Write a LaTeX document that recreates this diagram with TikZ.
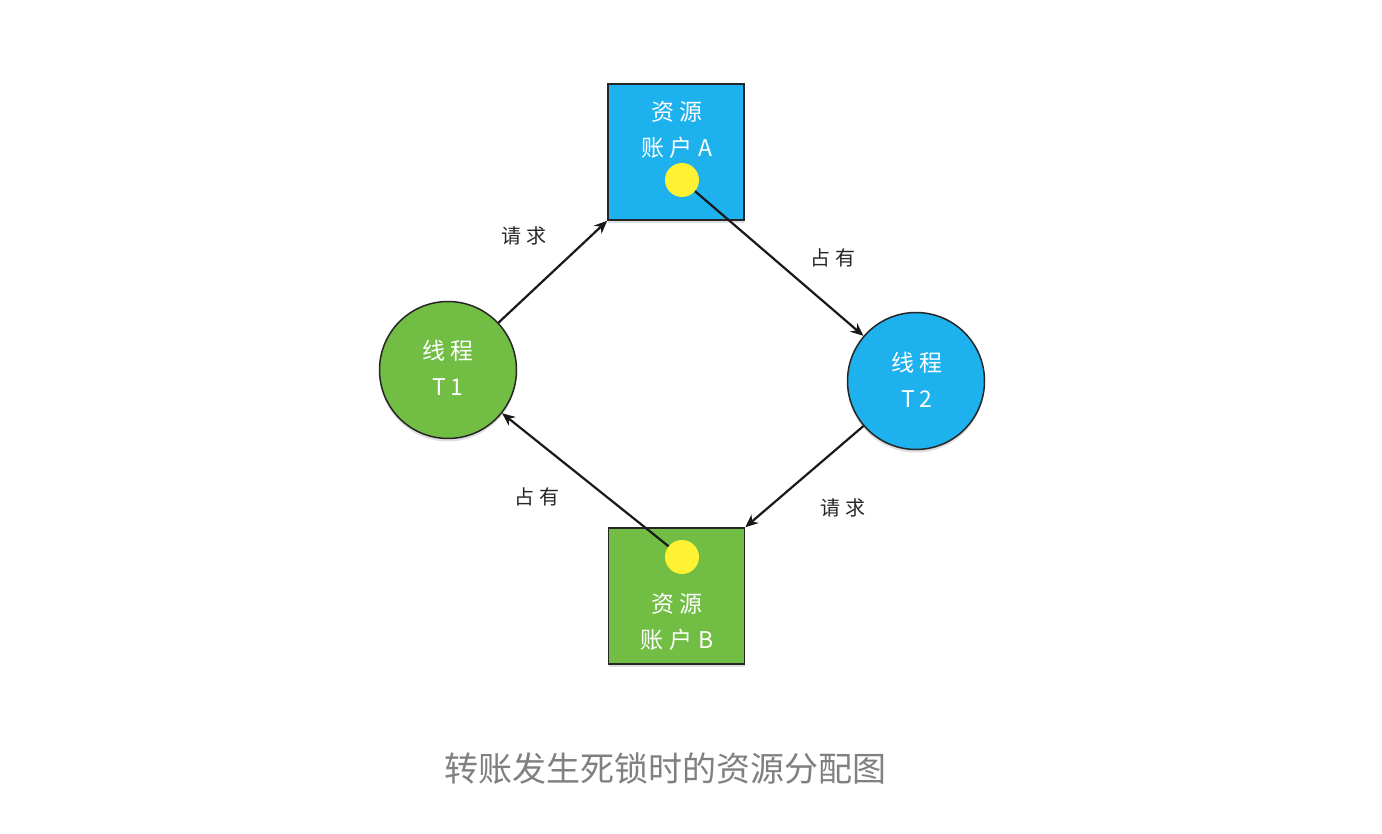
\documentclass[tikz,border=0pt]{standalone}
\usepackage{fontspec}
\setmainfont{Noto Sans CJK SC}
\usetikzlibrary{arrows.meta,shadows}
\definecolor{blueF}{HTML}{1DB1EE}
\definecolor{greenF}{HTML}{72BE45}
\definecolor{dotY}{HTML}{FFF233}
\definecolor{capG}{HTML}{808080}
\begin{document}
\begin{tikzpicture}[x=1pt,y=-1pt,
  shd/.style={drop shadow={shadow xshift=0pt,shadow yshift=-3pt,opacity=0.25}},
  res/.style={draw=black!85, line width=1.5pt, minimum size=136pt, inner sep=0pt, shd},
  thr/.style={circle, draw=black!85, line width=1.5pt, minimum size=137pt, inner sep=0pt, shd},
  heldot/.style={circle, fill=dotY, minimum size=34pt, inner sep=0pt},
  lbl/.style={text=white, font=\fontsize{23}{36}\selectfont, align=center, inner sep=0pt},
  conn/.style={line width=2.2pt, black!90, -{Stealth[length=13pt,width=11pt]}},
  elab/.style={font=\fontsize{20}{24}\selectfont, text=black!85, inner sep=0pt},
  captxt/.style={font=\fontsize{34}{36}\selectfont, text=capG, inner sep=0pt}]
\useasboundingbox (0,0) rectangle (1382,834);
\fill[white] (0,0) rectangle (1382,834);
% resources and threads
\node[res, fill=blueF] (A) at (676,152) {};
\node[res, fill=greenF] (B) at (676.5,596) {};
\node[thr, fill=greenF] (T1) at (448,370) {};
\node[thr, fill=blueF] (T2) at (916,381) {};
% texts
\node[lbl] (At) at (677,130) {资\hspace{6pt}源\\账\hspace{6pt}户\hspace{6pt}A};
\node[lbl] (Bt) at (677,622) {资\hspace{6pt}源\\账\hspace{6pt}户\hspace{6pt}B};
\node[lbl] (T1t) at (448,368) {线\hspace{6pt}程\\T\hspace{4pt}1};
\node[lbl] (T2t) at (917,380) {线\hspace{6pt}程\\T\hspace{4pt}2};
% held-resource dots
\node[heldot] (dA) at (682,180) {};
\node[heldot] (dB) at (682,557) {};
% connectors
\draw[conn] (T1) -- (A.south west);
\draw[conn] (dA) -- (T2);
\draw[conn] (T2) -- (B.north east);
\draw[conn] (dB) -- (T1);
% edge labels
\node[elab] (l1) at (524,236) {请\hspace{5pt}求};
\node[elab] (l2) at (833,258) {占\hspace{5pt}有};
\node[elab] (l3) at (537,497) {占\hspace{5pt}有};
\node[elab] (l4) at (843,508) {请\hspace{5pt}求};
% caption
\node[captxt] (cap) at (665,769) {转账发生死锁时的资源分配图};
\end{tikzpicture}
\end{document}
